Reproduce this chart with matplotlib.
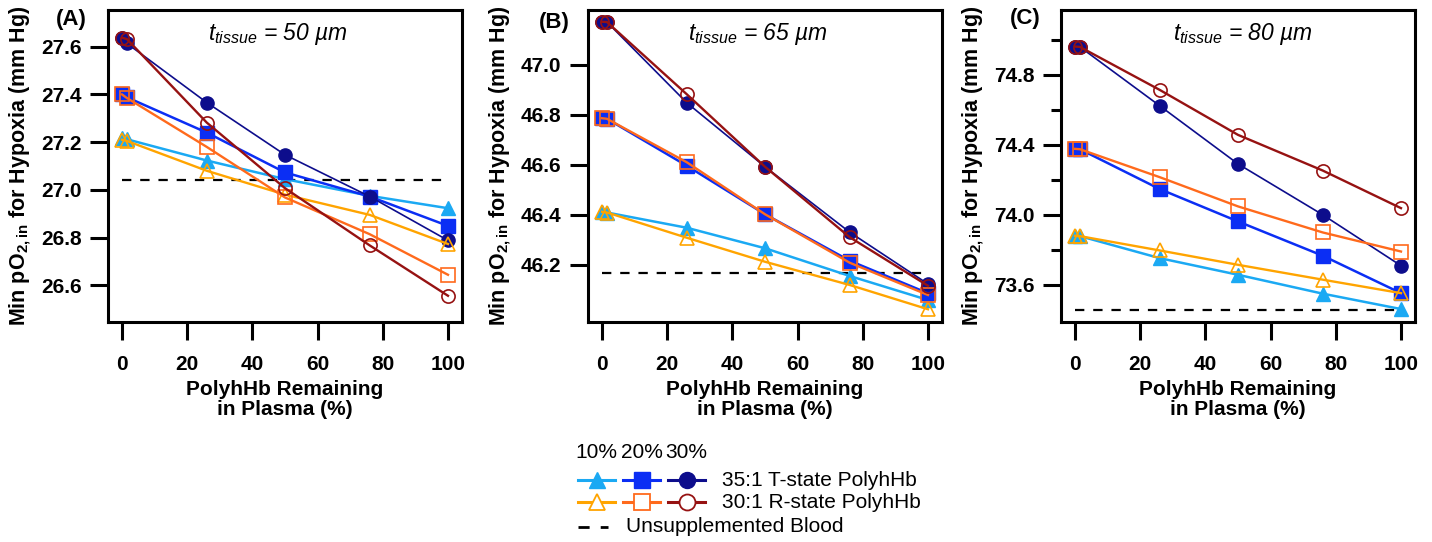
import numpy as np
import matplotlib
matplotlib.use("Agg")
import matplotlib.pyplot as plt

plt.rcParams["font.family"] = ["Liberation Sans", "DejaVu Sans"]
plt.rcParams["mathtext.fontset"] = "custom"
plt.rcParams["mathtext.rm"] = "Liberation Sans"
plt.rcParams["mathtext.it"] = "Liberation Sans:italic"
plt.rcParams["mathtext.bf"] = "Liberation Sans:bold"

# PolyhHb remaining in plasma (%)
x_remaining = [0, 1.5, 26, 50, 76, 100]

# (A) tissue thickness 50 um
t10_a = [27.216, 27.212, 27.123, 27.045, 26.975, 26.923]
t20_a = [27.400, 27.388, 27.240, 27.073, 26.972, 26.849]
t30_a = [27.635, 27.614, 27.366, 27.147, 26.972, 26.788]
r10_a = [27.210, 27.205, 27.080, 26.980, 26.895, 26.773]
r20_a = [27.400, 27.385, 27.180, 26.968, 26.814, 26.644]
r30_a = [27.638, 27.632, 27.282, 27.007, 26.767, 26.556]
blood_a = 27.042

# (B) tissue thickness 65 um
t10_b = [46.413, 46.410, 46.349, 46.267, 46.156, 46.060]
t20_b = [46.787, 46.785, 46.597, 46.403, 46.217, 46.087]
t30_b = [47.173, 47.172, 46.849, 46.593, 46.331, 46.124]
r10_b = [46.413, 46.410, 46.309, 46.213, 46.120, 46.023]
r20_b = [46.787, 46.785, 46.611, 46.403, 46.209, 46.080]
r30_b = [47.173, 47.172, 46.883, 46.593, 46.311, 46.117]
blood_b = 46.167

# (C) tissue thickness 80 um
t10_c = [73.880, 73.878, 73.752, 73.657, 73.549, 73.461]
t20_c = [74.377, 74.375, 74.147, 73.962, 73.766, 73.552]
t30_c = [74.962, 74.960, 74.623, 74.291, 74.000, 73.709]
r10_c = [73.880, 73.878, 73.796, 73.714, 73.629, 73.552]
r20_c = [74.377, 74.375, 74.215, 74.048, 73.899, 73.790]
r30_c = [74.962, 74.960, 74.714, 74.457, 74.253, 74.038]
blood_c = 73.457

panel_letters = ["(A)", "(B)", "(C)"]
thickness = [50, 65, 80]
x_ticks = [0, 20, 40, 60, 80, 100]
doses = ["10%", "20%", "30%"]
t_label = "35:1 T-state PolyhHb"
r_label = "30:1 R-state PolyhHb"
blood_label = "Unsupplemented Blood"

# marker, colour, line width for each dose
t_style = [("^", "#1BA9F3", 1.8), ("s", "#0B2EF4", 1.8), ("o", "#0D0D8C", 1.2)]
r_style = [("^", "#FFA400", 1.7), ("s", "#FF6A1C", 1.7), ("o", "#961212", 1.7)]
msize = {"^": 10.5, "s": 9.5, "o": 9.5}

panels = [
    ([t10_a, t20_a, t30_a], [r10_a, r20_a, r30_a], blood_a,
     (26.446, 27.754), [26.6, 26.8, 27.0, 27.2, 27.4, 27.6], []),
    ([t10_b, t20_b, t30_b], [r10_b, r20_b, r30_b], blood_b,
     (45.972, 47.22), [46.2, 46.4, 46.6, 46.8, 47.0], []),
    ([t10_c, t20_c, t30_c], [r10_c, r20_c, r30_c], blood_c,
     (73.387, 75.171), [73.6, 74.0, 74.4, 74.8], [73.8, 74.2, 74.6, 75.0]),
]

W, H = 1432, 542
fig = plt.figure(figsize=(W / 100, H / 100), dpi=100)

lefts = [108, 588, 1061]
note_x = [0.48, 0.48, 0.513]
letter_pos = [(-0.105, 0.968), (-0.096, 0.96), (-0.10, 0.974)]
tick_font = dict(fontsize=15, fontweight="bold")

for i, (t_sets, r_sets, blood, ylim, yt, yminor) in enumerate(panels):
    ax = fig.add_axes([lefts[i] / W, 1 - 322 / H, 354 / W, 312 / H])
    for vals, (m, c, lw) in zip(t_sets, t_style):
        ax.plot(x_remaining, vals, color=c, lw=lw, marker=m, ms=msize[m],
                mfc=c, mec=c, mew=1.0)
    for vals, (m, c, lw) in zip(r_sets, r_style):
        ax.plot(x_remaining, vals, color=c, lw=lw, marker=m, ms=msize[m],
                mfc="none", mec=c, mew=1.2)
    ax.plot([0, 100], [blood, blood], color="black", lw=1.6,
            dashes=(4.2, 4.0), zorder=1)

    ax.set_xlim(-4.3, 104.3)
    ax.set_ylim(*ylim)
    ax.set_xticks(x_ticks)
    ax.set_xticklabels([str(v) for v in x_ticks], **tick_font)
    ax.set_yticks(yt)
    ax.set_yticklabels([f"{v:.1f}" for v in yt], **tick_font)
    if yminor:
        ax.set_yticks(yminor, minor=True)
    ax.tick_params(axis="both", which="major", direction="out", length=13,
                   width=2.2, color="black")
    ax.tick_params(axis="y", which="minor", direction="out", length=7,
                   width=2.2)
    ax.tick_params(axis="x", pad=11)
    ax.tick_params(axis="y", pad=6)
    for s in ax.spines.values():
        s.set_linewidth(2.2)

    ax.set_xlabel("PolyhHb Remaining\nin Plasma (%)", fontsize=15,
                  fontweight="bold", labelpad=4, linespacing=1.05)
    ax.set_ylabel(r"Min pO$_{\mathbf{2,in}}$ for Hypoxia (mm Hg)",
                  fontsize=15.5, fontweight="bold", labelpad=6)

    lx, ly = letter_pos[i]
    ax.text(lx, ly, panel_letters[i], transform=ax.transAxes,
            fontsize=16, fontweight="bold", ha="center", va="center")
    ax.text(note_x[i], 0.922,
            r"$t_{tissue}$" + f" = {thickness[i]} \u00b5m",
            transform=ax.transAxes, fontsize=16.5, style="italic",
            ha="center", va="center")

# legend block drawn in figure pixel coordinates
lg = fig.add_axes([0, 0, 1, 1], facecolor="none")
lg.set_xlim(0, W)
lg.set_ylim(H, 0)
lg.axis("off")

seg_x = [(578, 615), (623, 660), (668, 705)]
row_t, row_r, row_b = 480, 502, 527
leg_ms = {"^": 12, "s": 11.5, "o": 11.5}
for (x0, x1), d in zip(seg_x, doses):
    lg.text((x0 + x1) / 2, 453, d, fontsize=15, ha="center", va="center")
for (x0, x1), (m, c, lw) in zip(seg_x, t_style):
    lg.plot([x0, x1], [row_t, row_t], color=c, lw=2.2)
    lg.plot([(x0 + x1) / 2], [row_t], ls="none", marker=m, ms=leg_ms[m],
            mfc=c, mec=c)
for (x0, x1), (m, c, lw) in zip(seg_x, r_style):
    lg.plot([x0, x1], [row_r, row_r], color=c, lw=2.2)
    lg.plot([(x0 + x1) / 2], [row_r], ls="none", marker=m, ms=leg_ms[m],
            mfc="white", mec=c, mew=1.3)
lg.plot([578, 608], [row_b, row_b], color="black", lw=2.0, dashes=(4.0, 4.0))
lg.text(722, row_t, t_label, fontsize=15, va="center")
lg.text(722, row_r, r_label, fontsize=15, va="center")
lg.text(626, row_b, blood_label, fontsize=15, va="center")

fig.savefig("out.png", dpi=100)
